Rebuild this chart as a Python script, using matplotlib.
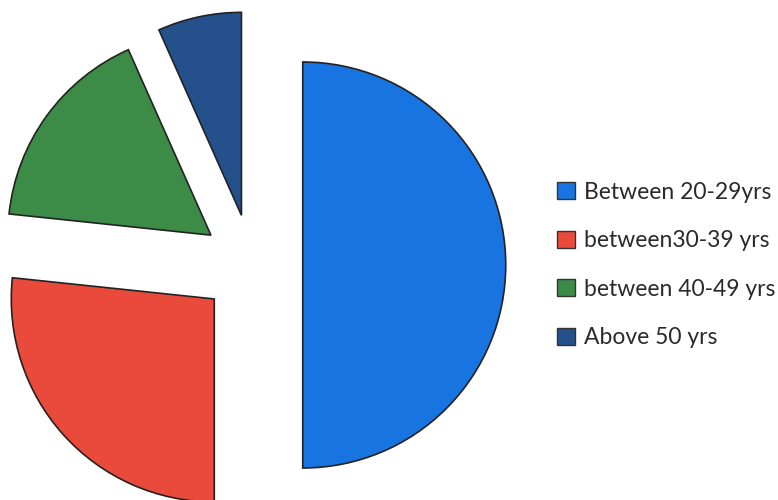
import matplotlib
matplotlib.use("Agg")
import matplotlib.pyplot as plt
from matplotlib.patches import Patch

labels = ["Between 20-29yrs", "between30-39 yrs", "between 40-49 yrs", "Above 50 yrs"]
values = [15, 8, 5, 2]
colors = ["#1874E0", "#EA4A3C", "#3C8C48", "#24508C"]
explode = [0.25, 0.25, 0.25, 0.25]

fig = plt.figure(figsize=(7.78, 5.0), dpi=100)
ax = fig.add_axes([0, 0, 1, 1])
ax.pie(values, colors=colors, explode=explode, startangle=90, counterclock=False,
       radius=1.0, center=(0, 0),
       wedgeprops=dict(edgecolor="#222222", linewidth=1.2))
ax.set_aspect("auto")
ax.set_xlim(-252 / 203, (778 - 252) / 203)
ax.set_ylim((265 - 500) / 203, 265 / 203)
ax.axis("off")

handles = [Patch(facecolor=c, edgecolor="#333333", linewidth=1.0) for c in colors]
leg = ax.legend(handles, labels, loc="center left", bbox_to_anchor=(0.69, 0.47),
                frameon=False, handlelength=0.75, handleheight=0.75, handletextpad=0.4,
                labelspacing=1.2, prop=dict(family="Lato", size=16.5))
for t in leg.get_texts():
    t.set_color("#2a2a2a")

fig.savefig("out.png", dpi=100)
